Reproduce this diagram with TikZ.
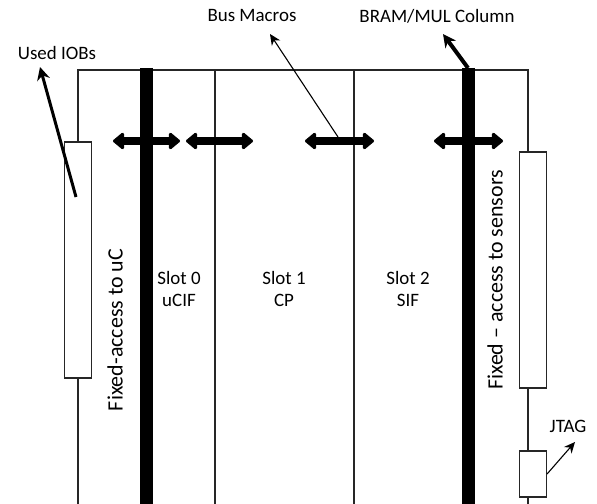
\documentclass[tikz,border=0pt]{standalone}
\usepackage{fontspec}
\setmainfont{Carlito}
\usetikzlibrary{arrows.meta}

\tikzset{
  wire/.style={line width=1.1bp, black!85},
  slotbar/.style={line width=13bp},
  busmacro/.style={line width=8bp,
    {Triangle[length=12bp,width=19bp,round]}-{Triangle[length=12bp,width=19bp,round]}},
  iobox/.style={draw=black!85, line width=1.1bp, fill=white, inner sep=0pt, minimum width=27bp},
  lbl/.style={font=\fontsize{19}{22}\selectfont, align=center, inner sep=1bp},
  sidelbl/.style={font=\fontsize{22}{26}\selectfont, rotate=90, inner sep=0pt},
  callout/.style={-{Stealth[length=13bp,width=13bp]}, line width=3bp},
  pointer/.style={-{Stealth[length=11bp,width=10bp]}, line width=1.1bp},
}

\begin{document}
\begin{tikzpicture}[x=1bp, y=-1bp]
  \useasboundingbox (0,0) rectangle (597,504);

  % frame corners
  \coordinate (tl) at (78,70);
  \coordinate (tr) at (528,70);
  \coordinate (bl) at (78,504);

  % IOB boxes
  \node[iobox, minimum height=236bp] (iob) at (78,260) {};
  \node[iobox, minimum height=236bp] (sens) at (533,270) {};
  \node[iobox, minimum height=46bp] (jtag) at (533,474) {};

  % device outline
  \draw[wire] (iob.north) -- (tl) -- (tr) -- (tr |- sens.north);
  \draw[wire] (iob.south) -- (bl);
  \draw[wire] (tr |- sens.south) -- (tr |- jtag.north);
  \draw[wire] (tr |- jtag.south) -- (tr |- bl);

  % slot borders
  \draw[wire] (215,70) -- (215,504);
  \draw[wire] (354,70) -- (354,504);

  % BRAM/MUL columns
  \coordinate (bram) at (468,68);
  \draw[slotbar] (146.5,68) -- (146.5,504);
  \draw[slotbar] (bram) -- (468,504);

  % bus macros
  \draw[busmacro] (113,141) -- (180,141);
  \draw[busmacro] (186,141) -- (253,141);
  \draw[busmacro] (305,141) -- (374,141);
  \draw[busmacro] (434,141) -- (503,141);

  % labels
  \node[lbl] (used) at (57,53) {Used IOBs};
  \node[lbl] (bus) at (252,16) {Bus Macros};
  \node[lbl] (col) at (437,16) {BRAM/MUL Column};
  \node[lbl] (jtaglbl) at (568,426) {JTAG};

  \node[lbl] (slot0) at (179,289) {Slot 0\\uCIF};
  \node[lbl] (slot1) at (284,289) {Slot 1\\CP};
  \node[lbl] (slot2) at (408,289) {Slot 2\\SIF};

  \node[sidelbl] (fixuc) at (115,330) {Fixed-access to uC};
  \node[sidelbl] (fixsens) at (495,280) {Fixed – access to sensors};

  % pointers
  \coordinate (bus tip) at (270,34);
  \coordinate (used tip) at (40,67);
  \coordinate (col tip) at (443,34);
  \coordinate (jtag tip) at (575,442);
  \draw[callout] (76,197) -- (used tip);
  \draw[pointer] (338,137) -- (bus tip);
  \draw[callout, line width=4bp] (bram) -- (col tip);
  \draw[pointer] (jtag.east) -- (jtag tip);
\end{tikzpicture}
\end{document}
